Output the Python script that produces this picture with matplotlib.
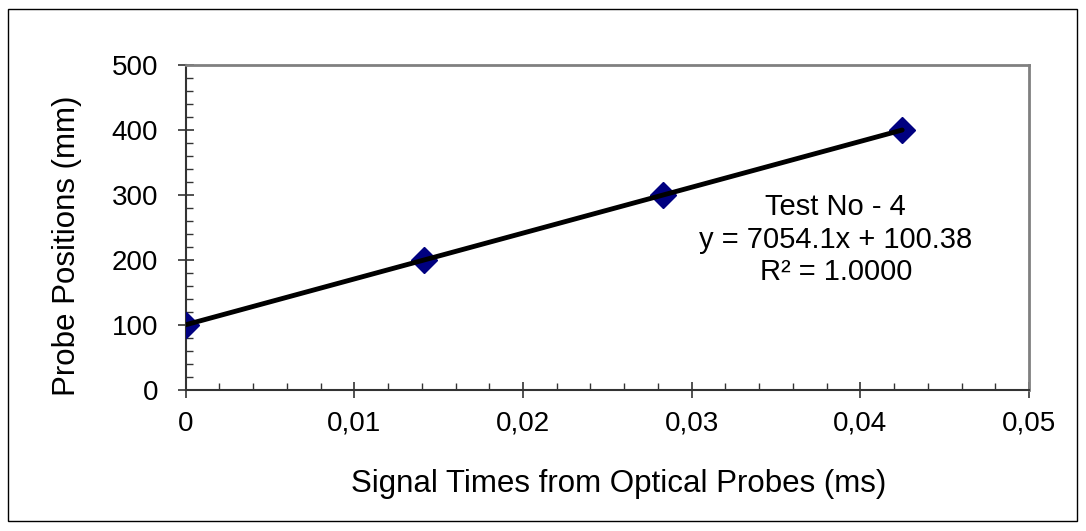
import numpy as np
import matplotlib
matplotlib.use("Agg")
import matplotlib.pyplot as plt
from matplotlib.patches import Rectangle
from matplotlib.ticker import MultipleLocator, FuncFormatter

plt.rcParams['font.family'] = ['Liberation Sans', 'DejaVu Sans']

# signal times (ms) and probe positions (mm)
times = [0.0, 0.01412, 0.02829, 0.04248]
positions = [100, 200, 300, 400]
slope = 7054.1
intercept = 100.38
note = "Test No - 4\ny = 7054.1x + 100.38\nR² = 1.0000"

fig = plt.figure(figsize=(10.86, 5.31), dpi=100)
ax = fig.add_axes([0.171, 0.2655, 0.7765, 0.612])

ax.plot(times, positions, linestyle='none', marker='D', markersize=13,
        color='#000080', markeredgecolor='#000080', zorder=3)
xt = np.array([times[0], times[-1]])
ax.plot(xt, slope * xt + intercept, color='black', lw=3.5, zorder=4,
        solid_capstyle='round')

ax.set_xlim(0, 0.05)
ax.set_ylim(0, 500)
ax.xaxis.set_major_locator(MultipleLocator(0.01))
ax.xaxis.set_minor_locator(MultipleLocator(0.002))
ax.yaxis.set_major_locator(MultipleLocator(100))
ax.yaxis.set_minor_locator(MultipleLocator(20))
ax.xaxis.set_major_formatter(FuncFormatter(lambda v, p: ('%g' % round(v, 4)).replace('.', ',')))

ax.tick_params(which='major', direction='inout', length=11.5, width=1.2,
               labelsize=20, color='#333333')
ax.tick_params(which='minor', direction='in', length=5, width=1, color='#333333')
ax.tick_params(axis='x', which='major', pad=9)
ax.tick_params(axis='y', which='major', pad=14)

for s in ['left', 'bottom']:
    ax.spines[s].set_color('#333333')
    ax.spines[s].set_linewidth(1.5)
for s in ['top', 'right']:
    ax.spines[s].set_color('#808080')
    ax.spines[s].set_linewidth(2)

ax.set_xlabel("Signal Times from Optical Probes (ms)", fontsize=22.5)
ax.set_ylabel("Probe Positions (mm)", fontsize=22.5)
ax.xaxis.set_label_coords(0.513, -0.242)
ax.yaxis.set_label_coords(-0.1234, 0.443)

ax.text(0.03855, 231, note, ha='center', va='center', fontsize=21,
        linespacing=1.2)

fig.patches.append(Rectangle((8 / 1086, 10 / 531), 1069 / 1086, 512 / 531,
                             transform=fig.transFigure, fill=False,
                             edgecolor='black', lw=1))

fig.savefig("out.png", dpi=100)
